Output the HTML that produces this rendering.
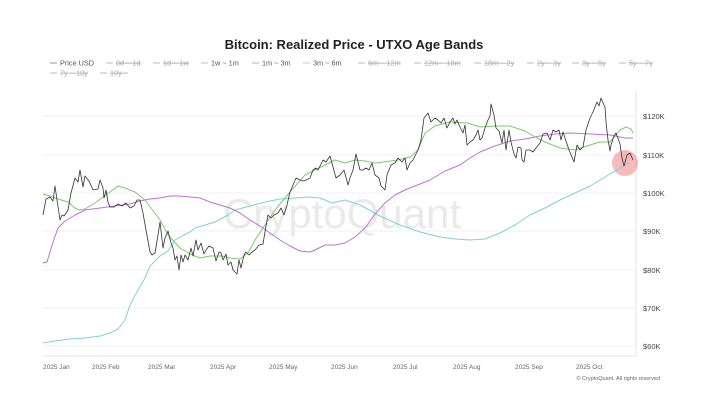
<!DOCTYPE html>
<html><head><meta charset="utf-8"><style>
body{margin:0;background:#fff;width:705px;height:400px;overflow:hidden;font-family:"Liberation Sans",sans-serif}
</style></head><body>
<svg width="705" height="400" viewBox="0 0 705 400" xmlns="http://www.w3.org/2000/svg" font-family="Liberation Sans, sans-serif">
<text x="354" y="49" font-size="13" font-weight="bold" text-anchor="middle" fill="#222">Bitcoin: Realized Price - UTXO Age Bands</text>
<g font-size="7.3" fill="#555">
<line x1="50" y1="63" x2="57" y2="63" stroke="#999"/><text x="60" y="65.5">Price USD</text>
<g fill="#aaa" text-decoration="line-through">
<line x1="106" y1="63" x2="113" y2="63" stroke="#bbb"/><text x="116" y="65.5" text-decoration="line-through">0d ~ 1d</text>
<line x1="153" y1="63" x2="160" y2="63" stroke="#bbb"/><text x="163" y="65.5" text-decoration="line-through">1d ~ 1w</text>
</g>
<line x1="201" y1="63" x2="208" y2="63" stroke="#9d9"/><text x="211" y="65.5">1w ~ 1m</text>
<line x1="252" y1="63" x2="259" y2="63" stroke="#d9d"/><text x="262" y="65.5">1m ~ 3m</text>
<line x1="303" y1="63" x2="310" y2="63" stroke="#9dd"/><text x="313" y="65.5">3m ~ 6m</text>
<g fill="#aaa">
<line x1="358" y1="63" x2="365" y2="63" stroke="#bbb"/><text x="368" y="65.5" text-decoration="line-through">6m ~ 12m</text>
<line x1="414" y1="63" x2="421" y2="63" stroke="#bbb"/><text x="424" y="65.5" text-decoration="line-through">12m ~ 18m</text>
<line x1="474" y1="63" x2="481" y2="63" stroke="#bbb"/><text x="484" y="65.5" text-decoration="line-through">18m ~ 2y</text>
<line x1="527" y1="63" x2="534" y2="63" stroke="#bbb"/><text x="537" y="65.5" text-decoration="line-through">2y ~ 3y</text>
<line x1="572" y1="63" x2="579" y2="63" stroke="#bbb"/><text x="582" y="65.5" text-decoration="line-through">3y ~ 5y</text>
<line x1="619" y1="63" x2="626" y2="63" stroke="#bbb"/><text x="629" y="65.5" text-decoration="line-through">5y ~ 7y</text>
<line x1="50" y1="73" x2="57" y2="73" stroke="#bbb"/><text x="60" y="75.5" text-decoration="line-through">7y ~ 10y</text>
<line x1="100" y1="73" x2="107" y2="73" stroke="#bbb"/><text x="110" y="75.5" text-decoration="line-through">10y ~</text>
</g></g>
<g stroke="#f2f2f2" stroke-width="1">
<line x1="43" y1="116" x2="636" y2="116"/><line x1="43" y1="155" x2="636" y2="155"/><line x1="43" y1="193" x2="636" y2="193"/><line x1="43" y1="231" x2="636" y2="231"/><line x1="43" y1="270" x2="636" y2="270"/><line x1="43" y1="308" x2="636" y2="308"/><line x1="43" y1="346" x2="636" y2="346"/>
</g>
<line x1="43" y1="356" x2="636" y2="356" stroke="#e6e6e6"/>
<line x1="636" y1="90" x2="636" y2="356" stroke="#e6e6e6"/>
<text x="342" y="228" font-size="42" fill="#eaeaea" text-anchor="middle">CryptoQuant</text>
<g font-size="7.5" fill="#444">
<text x="643" y="119">$120K</text><text x="643" y="158">$110K</text><text x="643" y="196">$100K</text><text x="643" y="234">$90K</text><text x="643" y="273">$80K</text><text x="643" y="311">$70K</text><text x="643" y="349">$60K</text>
</g>
<g font-size="6.5" fill="#666">
<text x="43" y="369">2025 Jan</text><text x="92" y="369">2025 Feb</text><text x="148" y="369">2025 Mar</text><text x="210" y="369">2025 Apr</text><text x="269" y="369">2025 May</text><text x="331" y="369">2025 Jun</text><text x="393" y="369">2025 Jul</text><text x="453" y="369">2025 Aug</text><text x="515" y="369">2025 Sep</text><text x="576" y="369">2025 Oct</text>
<text x="660" y="380" font-size="5.5" text-anchor="end">© CryptoQuant. All rights reserved</text>
</g>
<circle cx="625" cy="163" r="13" fill="rgba(240,120,120,0.5)"/>
<g fill="none" stroke-width="1" stroke-linejoin="round">
<polyline stroke="#7fd0dc" points="43,343 55,341 70,339 85,338 100,336 110,333 118,329 125,320 130,305 138,290 145,278 150,266 160,256 168,251 175,240 182,236 190,232 195,228 205,225 215,222 228,215 235,210 250,206 265,202 280,199 295,198 310,197 320,198 332,203 345,200 360,205 380,216 400,225 420,232 440,237 455,239 470,240 485,239 500,233 515,225 530,215 545,208 560,200 575,193 590,186 605,177 620,168 630,162"/>
<polyline stroke="#c36fd6" points="43,263 47,262 52,245 58,228 65,221 75,215 85,210 100,208 115,206 130,204 140,201 150,199 160,198 170,196 180,196 190,197 200,198 210,202 220,205 230,208 240,213 250,220 260,226 270,233 280,240 290,246 300,251 310,252 315,250 325,245 335,245 345,243 355,237 365,228 375,214 385,203 395,195 405,190 415,186 430,180 445,171 460,165 470,158 480,152 495,146 510,141 525,139 540,136 555,134 570,133 590,134 610,135 625,138 633,138"/>
<polyline stroke="#7ccb6c" points="43,194 50,196 58,199 68,202 75,208 79,210 85,209 95,203 102,198 110,192 118,186 125,188 135,192 145,200 160,220 168,235 180,248 190,254 200,258 210,256 222,256 230,258 240,259 248,253 255,240 265,225 275,210 290,192 305,175 315,170 325,165 335,160 345,163 355,160 365,161 375,163 383,162 398,160 410,157 418,150 425,133 435,126 450,122 468,123 480,127 495,126 510,126 525,131 535,137 545,142 560,148 575,150 590,145 600,142 610,142 620,130 626,127 631,129 633,133"/>
<polyline stroke="#333" stroke-width="0.8" points="43,215 46,199 50,197 53,201 55,186 57,200 59,213 60,220 62,215 64,216 68,210 71,193 75,178 78,182 80,170 83,187 85,176 89,181 93,190 98,189 100,180 103,188 104,198 106,190 108,202 110,207 114,207 118,204 122,206 126,203 130,208 134,206 137,200 140,200 143,213 146,230 150,252 152,255 155,253 158,235 160,222 163,248 165,238 168,231 171,243 173,248 175,260 177,256 179,270 181,255 183,262 185,255 188,260 191,248 193,256 196,240 198,250 201,243 204,254 206,250 209,246 213,248 216,261 219,252 221,253 223,260 226,254 228,265 231,262 233,270 237,274 239,260 241,268 244,255 246,252 249,255 251,253 255,250 259,245 263,244 265,232 268,215 271,218 274,215 278,213 281,208 284,215 287,205 290,192 296,178 300,180 303,181 306,180 310,178 313,170 316,168 318,170 323,160 326,162 330,156 333,167 336,178 340,175 344,170 348,185 350,178 353,170 356,154 360,170 363,170 366,168 369,170 372,163 375,175 379,178 381,186 385,190 387,175 391,165 395,163 398,158 402,162 405,158 407,170 410,163 413,160 418,150 421,140 424,118 428,113 431,122 435,118 438,120 441,123 444,118 447,128 450,122 453,118 455,124 457,120 460,127 463,133 465,125 467,145 470,142 473,140 476,135 478,130 480,140 482,138 485,128 488,120 490,116 491,104 494,115 496,128 499,131 502,143 504,130 506,150 509,130 511,142 514,154 516,158 518,147 521,148 522,160 524,162 526,150 530,150 533,152 536,148 540,143 543,134 547,133 550,140 553,130 556,132 559,130 561,140 563,132 567,144 569,150 572,157 574,162 577,145 580,150 583,147 586,130 590,118 593,112 597,102 599,106 601,98 603,103 605,107 606,122 608,140 610,151 611,145 614,136 616,133 620,144 622,158 624,166 627,155 630,153 633,160"/>
</g>
</svg>
</body></html>
